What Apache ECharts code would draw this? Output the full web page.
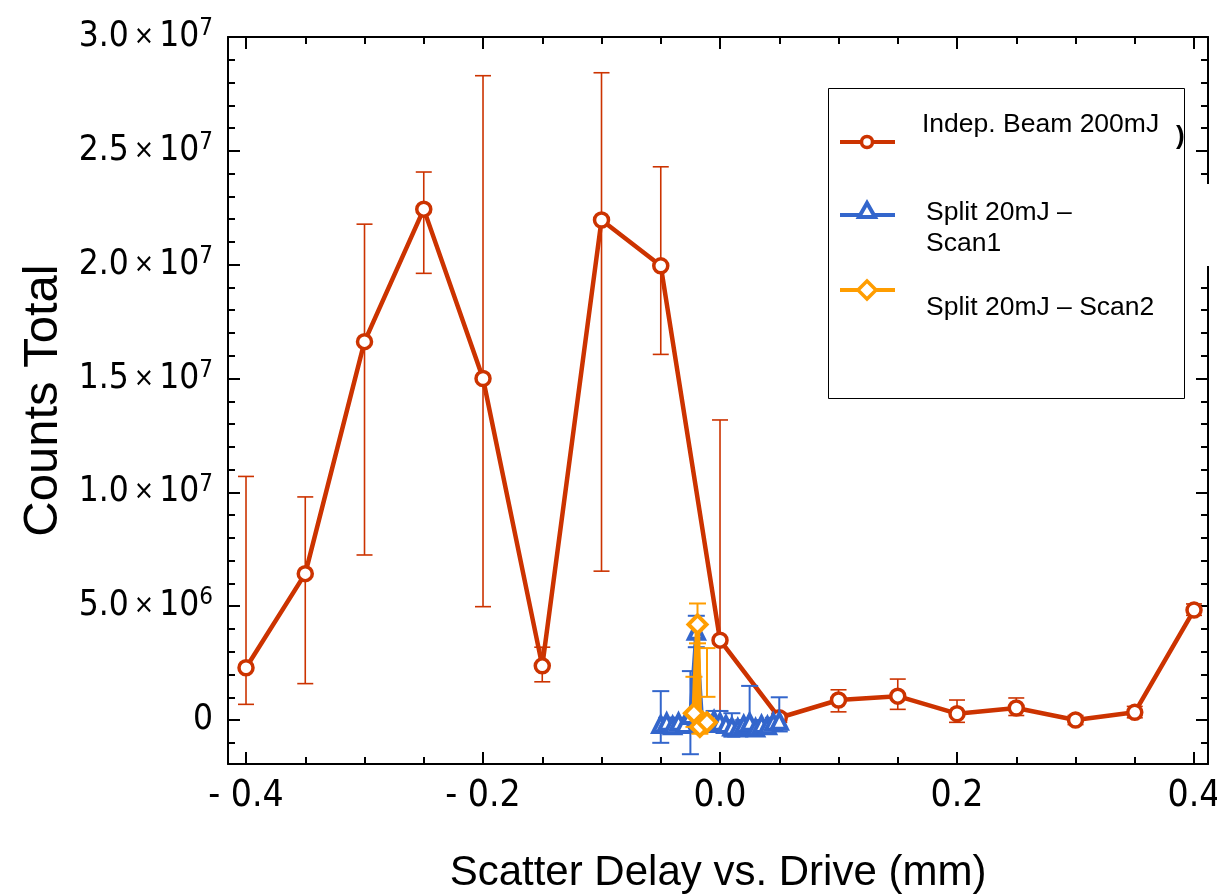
<!DOCTYPE html>
<html><head><meta charset="utf-8">
<script src="https://cdn.jsdelivr.net/npm/echarts@6/dist/echarts.min.js"></script>
<style>html,body{margin:0;padding:0;background:#fff}#c{width:1217px;height:895px}</style>
</head><body><div id="c"></div>
<script>
// ---- tick data ----
const xTickValues = [-0.4, -0.2, 0, 0.2, 0.4];
const xTickLabels = ['- 0.4', '- 0.2', '0.0', '0.2', '0.4'];
const xMinorValues = [-0.35, -0.3, -0.25, -0.15, -0.1, -0.05, 0.05, 0.1, 0.15, 0.25, 0.3, 0.35];
const yTickValues = [0, 5e6, 1e7, 1.5e7, 2e7, 2.5e7, 3e7];
const yTickMantissa = ['0', '5.0', '1.0', '1.5', '2.0', '2.5', '3.0'];
const yTickExponent = ['', '6', '7', '7', '7', '7', '7'];
const yMinorValues = [-1e6, 1e6, 2e6, 3e6, 4e6, 6e6, 7e6, 8e6, 9e6, 11e6, 12e6, 13e6, 14e6, 16e6, 17e6, 18e6, 19e6, 21e6, 22e6, 23e6, 24e6, 26e6, 27e6, 28e6, 29e6];

// ---- series data ----
const beamName = 'Indep. Beam 200mJ';
const beamX = [-0.4, -0.35, -0.3, -0.25, -0.2, -0.15, -0.1, -0.05, 0, 0.05, 0.1, 0.15, 0.2, 0.25, 0.3, 0.35, 0.4];
const beamY = [2.3e6, 6.43e6, 16.62e6, 22.44e6, 15.0e6, 2.38e6, 21.96e6, 19.95e6, 3.51e6, 0.1e6, 0.88e6, 1.05e6, 0.28e6, 0.53e6, 0.0, 0.34e6, 4.83e6];
const beamLow = [0.69e6, 1.6e6, 7.25e6, 19.62e6, 4.98e6, 1.68e6, 6.54e6, 16.06e6, 0.4e6, -0.1e6, 0.36e6, 0.47e6, -0.1e6, 0.2e6, -0.2e6, 0.1e6, 4.6e6];
const beamHigh = [10.7e6, 9.8e6, 21.78e6, 24.07e6, 28.3e6, 3.2e6, 28.43e6, 24.3e6, 13.18e6, 0.3e6, 1.33e6, 1.8e6, 0.88e6, 0.97e6, 0.2e6, 0.6e6, 5.1e6];

const scan1Name = 'Split 20mJ –\nScan1';
const scan1X = [-0.05, -0.045, -0.04, -0.035, -0.03, -0.025, -0.02, -0.015, -0.01, -0.005, 0, 0.005, 0.01, 0.015, 0.02, 0.025, 0.03, 0.035, 0.04, 0.045, 0.05];
const scan1Y = [-0.2e6, -0.1e6, -0.25e6, -0.1e6, -0.2e6, 0.2e6, 3.9e6, -0.1e6, -0.15e6, 0.0, -0.1e6, -0.2e6, -0.3e6, -0.35e6, -0.2e6, -0.1e6, -0.35e6, -0.2e6, -0.25e6, -0.1e6, -0.05e6];
const scan1Low = [-1.0e6, -0.3e6, -0.5e6, -0.3e6, -0.4e6, -1.5e6, 3.2e6, -0.3e6, -0.35e6, -0.2e6, -0.3e6, -0.4e6, -0.73e6, -0.55e6, -0.4e6, -0.6e6, -0.55e6, -0.4e6, -0.45e6, -0.3e6, -0.5e6];
const scan1High = [1.27e6, 0.1e6, 0.0, 0.1e6, 0.0, 2.15e6, 4.58e6, 0.1e6, 0.05e6, 0.4e6, 0.4e6, 0.0, 0.3e6, -0.15e6, 0.0, 1.5e6, -0.15e6, 0.0, -0.05e6, 0.1e6, 1.0e6];

const scan2Name = 'Split 20mJ – Scan2';
const scan2X = [-0.022, -0.019, -0.017, -0.011];
const scan2Y = [0.3e6, 4.2e6, -0.3e6, -0.1e6];
const scan2Low = [-0.3e6, 3.37e6, -0.6e6, 1.02e6];
const scan2High = [1.9e6, 5.12e6, 0.0, 3.16e6];

// ---- colours ----
const RED = '#cc3300', BLUE = '#3366cc', ORANGE = '#ff9d00';
const NARROW = "'Liberation Sans Narrow','DejaVu Sans Condensed','Arial Narrow',sans-serif";
const SANS = "'Liberation Sans',Arial,sans-serif";

const X_MIN = -0.4152, X_MAX = 0.4118, Y_MIN = -1.93e6, Y_MAX = 3e7;

function zip3(a, b, c) { return a.map((v, i) => [v, b[i], c[i]]); }
function zip2(a, b) { return a.map((v, i) => [v, b[i]]); }

function errRenderer(color, lw, half) {
  return function (params, api) {
    const x = api.value(0), lo = api.value(1), hi = api.value(2);
    const pLo = api.coord([x, lo]), pHi = api.coord([x, hi]);
    const style = { stroke: color, lineWidth: lw };
    return {
      type: 'group', children: [
        { type: 'line', shape: { x1: pLo[0], y1: pLo[1], x2: pHi[0], y2: pHi[1] }, style },
        { type: 'line', shape: { x1: pLo[0] - half, y1: pLo[1], x2: pLo[0] + half, y2: pLo[1] }, style },
        { type: 'line', shape: { x1: pHi[0] - half, y1: pHi[1], x2: pHi[0] + half, y2: pHi[1] }, style }
      ]
    };
  };
}

function line(show) { return { show: show, onZero: false, lineStyle: { color: '#000', width: 2 } }; }
function xAx(pos, values, len, withLabels, withLine) {
  return {
    type: 'value', position: pos, min: X_MIN, max: X_MAX, offset: 0,
    axisLine: line(withLine),
    axisTick: { show: true, inside: true, length: len, customValues: values, lineStyle: { color: '#000', width: 2 } },
    axisLabel: withLabels ? {
      show: true, customValues: xTickValues, margin: 14,
      fontFamily: NARROW, fontSize: 37, color: '#000',
      formatter: v => { const i = xTickValues.findIndex(t => Math.abs(t - v) < 1e-9); return i >= 0 ? xTickLabels[i] : ''; }
    } : { show: false },
    splitLine: { show: false }
  };
}
function yAx(pos, values, len, withLabels, withLine) {
  return {
    type: 'value', position: pos, min: Y_MIN, max: Y_MAX, offset: 0,
    axisLine: line(withLine),
    axisTick: { show: true, inside: true, length: len, customValues: values, lineStyle: { color: '#000', width: 2 } },
    axisLabel: withLabels ? {
      show: true, customValues: yTickValues, margin: 15, color: '#000',
      formatter: v => {
        const i = yTickValues.findIndex(t => Math.abs(t - v) < 1);
        if (i < 0) return '';
        if (!yTickExponent[i]) return '{m|' + yTickMantissa[i] + '}';
        return '{m|' + yTickMantissa[i] + '}{x|×}{m|10}{e|' + yTickExponent[i] + '}';
      },
      rich: {
        m: { fontFamily: NARROW, fontSize: 35, lineHeight: 40, color: '#000' },
        x: { fontFamily: NARROW, fontSize: 27, lineHeight: 40, padding: [0, 5, 0, 5], color: '#000' },
        e: { fontFamily: NARROW, fontSize: 24, lineHeight: 24, verticalAlign: 'top', color: '#000' }
      }
    } : { show: false },
    splitLine: { show: false }
  };
}

const xAxes = [
  Object.assign(xAx('bottom', xTickValues, 12, true, true), {
    name: 'Scatter Delay vs. Drive (mm)', nameLocation: 'middle', nameGap: 88,
    nameTextStyle: { fontFamily: SANS, fontSize: 42, color: '#000' }
  }),
  xAx('bottom', xMinorValues, 7, false, false),
  xAx('top', xTickValues, 12, false, true),
  xAx('top', xMinorValues, 7, false, false)
];
const yAxes = [
  Object.assign(yAx('left', yTickValues, 12, true, true), {
    name: 'Counts Total', nameLocation: 'middle', nameGap: 154,
    nameTextStyle: { fontFamily: SANS, fontSize: 49, color: '#000' }
  }),
  yAx('left', yMinorValues, 7, false, false),
  yAx('right', yTickValues, 12, false, true),
  yAx('right', yMinorValues, 7, false, false)
];

const series = [
  { type: 'custom', name: beamName + ' err', z: 1, renderItem: errRenderer(RED, 1.6, 8), encode: { x: 0, y: [1, 2] }, data: zip3(beamX, beamLow, beamHigh), silent: true },
  { type: 'line', name: beamName, z: 2, data: zip2(beamX, beamY), symbol: 'circle', symbolSize: 14,
    itemStyle: { color: '#fff', borderColor: RED, borderWidth: 3.5 }, lineStyle: { color: RED, width: 4.5 } },
  { type: 'custom', name: 'scan1 err', z: 3, renderItem: errRenderer(BLUE, 2, 8.5), encode: { x: 0, y: [1, 2] }, data: zip3(scan1X, scan1Low, scan1High), silent: true },
  { type: 'line', name: scan1Name, z: 4, data: zip2(scan1X, scan1Y), symbol: 'triangle', symbolSize: 15,
    itemStyle: { color: '#fff', borderColor: BLUE, borderWidth: 4 }, lineStyle: { color: BLUE, width: 4 } },
  { type: 'custom', name: 'scan2 err', z: 5, renderItem: errRenderer(ORANGE, 2, 8.5), encode: { x: 0, y: [1, 2] }, data: zip3(scan2X, scan2Low, scan2High), silent: true },
  { type: 'line', name: scan2Name, z: 6, data: zip2(scan2X, scan2Y), symbol: 'diamond', symbolSize: 18,
    itemStyle: { color: '#fff', borderColor: ORANGE, borderWidth: 4 }, lineStyle: { color: ORANGE, width: 5 } }
].map(s => Object.assign({ xAxisIndex: 0, yAxisIndex: 0, animation: false }, s));

const legendFont = { fontFamily: SANS, fontSize: 26.5, fill: '#000' };
const graphic = [
  // white gap and stray glyph present in the reference image
  { type: 'rect', shape: { x: 1194, y: 184, width: 23, height: 82 }, style: { fill: '#fff' }, z: 100 },
  { type: 'text', x: 1176, y: 124, style: { text: ')', font: 'bold 26px ' + SANS, fill: '#000' }, z: 100 },
  // legend box
  { type: 'rect', shape: { x: 828.5, y: 88.5, width: 356, height: 310 }, style: { fill: '#fff', stroke: '#000', lineWidth: 1 }, z: 50 },
  { type: 'line', shape: { x1: 840, y1: 142, x2: 895, y2: 142 }, style: { stroke: RED, lineWidth: 4 }, z: 51 },
  { type: 'circle', shape: { cx: 867, cy: 142, r: 5.5 }, style: { fill: '#fff', stroke: RED, lineWidth: 3.5 }, z: 52 },
  { type: 'text', x: 922, y: 125, style: Object.assign({ text: beamName, verticalAlign: 'middle' }, legendFont), z: 52 },
  { type: 'line', shape: { x1: 840, y1: 215, x2: 895, y2: 215 }, style: { stroke: BLUE, lineWidth: 4 }, z: 51 },
  { type: 'polygon', shape: { points: [[867, 203], [875, 217], [859, 217]] }, style: { fill: '#fff', stroke: BLUE, lineWidth: 4 }, z: 52 },
  { type: 'text', x: 926, y: 228, style: Object.assign({ text: scan1Name, verticalAlign: 'middle', lineHeight: 31 }, legendFont), z: 52 },
  { type: 'line', shape: { x1: 840, y1: 290, x2: 895, y2: 290 }, style: { stroke: ORANGE, lineWidth: 4 }, z: 51 },
  { type: 'polygon', shape: { points: [[867, 281], [876, 290], [867, 299], [858, 290]] }, style: { fill: '#fff', stroke: ORANGE, lineWidth: 3.5 }, z: 52 },
  { type: 'text', x: 926, y: 308, style: Object.assign({ text: scan2Name, verticalAlign: 'middle' }, legendFont), z: 52 }
];

const chart = echarts.init(document.getElementById('c'), null, { renderer: 'canvas' });
chart.setOption({
  animation: false,
  backgroundColor: '#fff',
  grid: { left: 228, right: 9, top: 37, bottom: 131, containLabel: false, outerBoundsMode: 'none' },
  xAxis: xAxes,
  yAxis: yAxes,
  series: series,
  graphic: graphic
});
</script></body></html>
